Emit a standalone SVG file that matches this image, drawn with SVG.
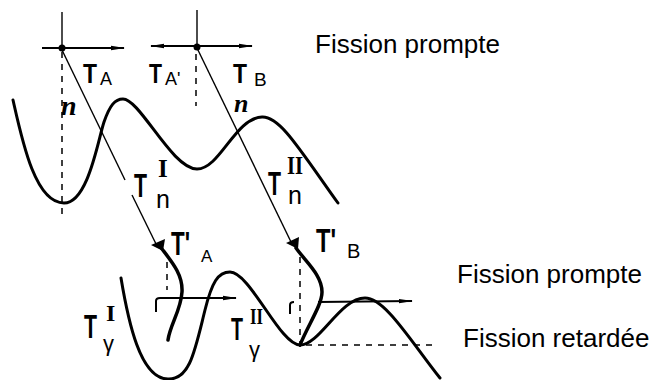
<svg xmlns="http://www.w3.org/2000/svg" width="652" height="380" viewBox="0 0 652 380">
<style>
.pot{fill:none;stroke:#000;stroke-width:3;stroke-linecap:round;stroke-linejoin:round}
.thin{fill:none;stroke:#000;stroke-width:1.4}
.hz{fill:none;stroke:#000;stroke-width:2}
.dash{fill:none;stroke:#000;stroke-width:1.5;stroke-dasharray:6 6}
.thick{fill:none;stroke:#000;stroke-width:3.5;stroke-linecap:round}
.lab{font-family:"Liberation Sans",Arial,sans-serif;fill:#000}
.tt{font-weight:bold}
.rom{font-family:"Liberation Serif","Times New Roman",serif;font-weight:bold}
.big{font-family:"Liberation Sans",Arial,sans-serif;font-size:26px;fill:#000}
</style>
<defs>
<marker id="ar" markerWidth="14" markerHeight="6" refX="13" refY="3" orient="auto" markerUnits="userSpaceOnUse">
<path d="M0,0.8 L14,3 L0,5.2 Z" fill="#000"/>
</marker>
<marker id="al" markerWidth="14" markerHeight="6" refX="1" refY="3" orient="auto" markerUnits="userSpaceOnUse">
<path d="M14,0.8 L0,3 L14,5.2 Z" fill="#000"/>
</marker>
</defs>
<rect width="652" height="380" fill="#fff"/>

<g id="upper-potential">
<path class="pot" d="M13,100 C 22,140 35,203 64,203 C 88,203 98,140 104,122 C 110,105 115,99 123,99 C 140,99 172,169 197,169 C 220,169 235,118 262,117 C 280,116 300,150 338,203"/>
</g>

<g id="lower-potential">
<path class="pot" d="M121,278 C 128,320 140,379 168,379 C 190,380 195,350 205,310 C 212,282 218,272 230,272 C 250,272 280,345 300,345 C 320,345 340,298 365,298 C 385,298 410,340 440,378"/>
</g>

<g id="connectors">
<line class="thin" x1="62" y1="12" x2="62" y2="48"/>
<line class="dash" x1="62" y1="52" x2="62" y2="216"/>
<line class="thin" x1="197" y1="10" x2="197" y2="47"/>
<line class="dash" x1="196" y1="54" x2="196" y2="106"/>
<line class="hz" x1="42" y1="48" x2="124" y2="48" marker-end="url(#ar)"/>
<line class="hz" x1="151" y1="46" x2="252" y2="46" marker-start="url(#al)" marker-end="url(#ar)"/>
<circle cx="62" cy="48" r="3.5" fill="#000"/>
<circle cx="197" cy="47" r="3.5" fill="#000"/>
<line class="thin" x1="62" y1="50" x2="125" y2="180"/>
<line class="thin" x1="132" y1="195" x2="157" y2="246"/>
<line class="thin" x1="197" y1="48" x2="292" y2="244"/>
<polygon points="151,245 165,239 163,251" fill="#000"/>
<polygon points="286,243 299,237 298,249" fill="#000"/>
<path class="thick" d="M162,249 C 172,262 183,275 182,292 C 181,310 170,325 168,340"/>
<path class="thick" d="M296,248 C 306,262 322,275 322,292 C 322,305 308,325 300,345"/>
<line class="dash" x1="167" y1="262" x2="167" y2="290" stroke-dasharray="5 4"/>
<line class="dash" x1="300" y1="257" x2="300" y2="352"/>
<line class="dash" x1="306" y1="345" x2="438" y2="345"/>
<path class="hz" d="M156,312 L156,301 Q156,298 160,298 L236,298" marker-end="url(#ar)"/>
<line class="hz" x1="318" y1="302" x2="412" y2="301" marker-end="url(#ar)"/>
<path class="hz" d="M290,314 L290,305 Q290,302 294,302"/>
</g>

<g id="label-TA">
<text class="lab"><tspan class="tt" x="83" y="83" font-size="28" textLength="14" lengthAdjust="spacingAndGlyphs">T</tspan><tspan x="100" y="85" font-size="18">A</tspan></text>
</g>
<g id="label-TA2">
<text class="lab"><tspan class="tt" x="149" y="83" font-size="28" textLength="13" lengthAdjust="spacingAndGlyphs">T</tspan><tspan x="165" y="85" font-size="18">A'</tspan></text>
</g>
<g id="label-TB">
<text class="lab"><tspan class="tt" x="233" y="83" font-size="28" textLength="14" lengthAdjust="spacingAndGlyphs">T</tspan><tspan x="254" y="86" font-size="19">B</tspan></text>
</g>
<g id="label-n1">
<text class="lab rom" x="61" y="115" font-size="28" font-style="italic">n</text>
</g>
<g id="label-n2">
<text class="lab rom" x="234" y="112" font-size="26" font-style="italic">n</text>
</g>
<g id="label-TnI">
<text class="lab"><tspan class="tt" x="134" y="197" font-size="34" textLength="13" lengthAdjust="spacingAndGlyphs">T</tspan><tspan class="rom" x="158" y="177" font-size="25">I</tspan><tspan x="156" y="208" font-size="25">n</tspan></text>
</g>
<g id="label-TnII">
<text class="lab"><tspan class="tt" x="268" y="195" font-size="34" textLength="13" lengthAdjust="spacingAndGlyphs">T</tspan><tspan class="rom" x="287" y="174" font-size="25" textLength="16" lengthAdjust="spacingAndGlyphs">II</tspan><tspan x="288" y="204" font-size="25">n</tspan></text>
</g>
<g id="label-TpA">
<text class="lab"><tspan class="tt" x="171" y="255" font-size="34" textLength="19" lengthAdjust="spacingAndGlyphs">T'</tspan><tspan x="201" y="262" font-size="17">A</tspan></text>
</g>
<g id="label-TpB">
<text class="lab"><tspan class="tt" x="316" y="252" font-size="34" textLength="20" lengthAdjust="spacingAndGlyphs">T'</tspan><tspan x="347" y="258" font-size="20">B</tspan></text>
</g>
<g id="label-TgI">
<text class="lab"><tspan class="tt" x="84" y="338" font-size="34" textLength="13" lengthAdjust="spacingAndGlyphs">T</tspan><tspan class="rom" x="106" y="321" font-size="24">I</tspan><tspan x="103" y="351" font-size="22">γ</tspan></text>
</g>
<g id="label-TgII">
<text class="lab"><tspan class="tt" x="231" y="340" font-size="31" textLength="12" lengthAdjust="spacingAndGlyphs">T</tspan><tspan class="rom" x="250" y="324" font-size="24" textLength="13" lengthAdjust="spacingAndGlyphs">II</tspan><tspan x="249" y="357" font-size="22">γ</tspan></text>
</g>

<g id="text-prompt-top"><text class="big" x="315" y="53">Fission prompte</text></g>
<g id="text-prompt-bottom"><text class="big" x="457" y="283">Fission prompte</text></g>
<g id="text-delayed"><text class="big" x="463" y="347">Fission retardée</text></g>
</svg>
